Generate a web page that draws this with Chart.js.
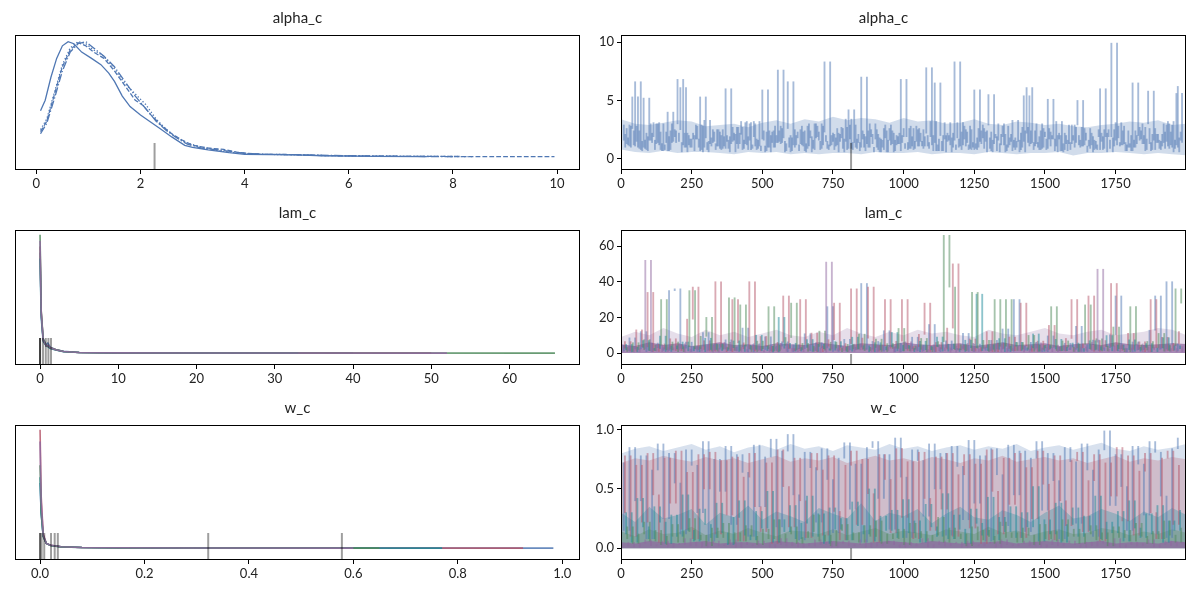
<!DOCTYPE html>
<html>
<head>
<meta charset="utf-8">
<script src="https://cdn.jsdelivr.net/npm/chart.js@4.4.1/dist/chart.umd.min.js"></script>
<style>
  html,body{margin:0;padding:0;background:#fff;}
  body{width:1200px;height:600px;position:relative;overflow:hidden;}
  .panel{position:absolute;}
</style>
</head>
<body>
<div class="panel" id="p0"><canvas></canvas></div>
<div class="panel" id="p1"><canvas></canvas></div>
<div class="panel" id="p2"><canvas></canvas></div>
<div class="panel" id="p3"><canvas></canvas></div>
<div class="panel" id="p4"><canvas></canvas></div>
<div class="panel" id="p5"><canvas></canvas></div>
<script>
// ===================================================
// Trace plot: alpha_c, lam_c, w_c (KDE left, draws right)
// ===================================================

// ---------- titles / ticks ----------
const titles = ["alpha_c", "lam_c", "w_c"];
const alphaKdeTicks = [0, 2, 4, 6, 8, 10];
const lamKdeTicks = [0, 10, 20, 30, 40, 50, 60];
const wKdeTicks = [0, 0.2, 0.4, 0.6, 0.8, 1.0];
const iterTicks = [0, 250, 500, 750, 1000, 1250, 1500, 1750];
const alphaTraceTicks = [0, 5, 10];
const lamTraceTicks = [0, 20, 40, 60];
const wTraceTicks = [0, 0.5, 1.0];

// ---------- alpha_c KDE, one curve per chain ----------
const alphaKdeX0 = [0.08,0.17,0.28,0.39,0.5,0.61,0.72,0.87,1.06,1.24,1.39,1.5,1.65,1.8,2.0,2.2,2.4,2.6,2.85,3.0,3.3,3.7,4.0,4.5,5.0,5.5,6.5,7.5];
const alphaKdeY0 = [0.22,0.27,0.38,0.47,0.53,0.55,0.54,0.50,0.47,0.44,0.40,0.36,0.29,0.24,0.20,0.165,0.13,0.095,0.055,0.045,0.033,0.02,0.012,0.01,0.009,0.005,0.002,0.001];
const alphaKdeX1 = [0.08,0.2,0.35,0.5,0.65,0.8,0.95,1.1,1.3,1.5,1.7,1.9,2.05,2.2,2.4,2.6,2.8,3.0,3.3,3.6,3.9,4.3,4.8,5.5,6.5,7.5,8.5,9.95];
const alphaKdeY1 = [0.12,0.17,0.3,0.43,0.51,0.545,0.53,0.5,0.47,0.41,0.34,0.27,0.245,0.2,0.15,0.11,0.08,0.055,0.042,0.035,0.02,0.012,0.011,0.006,0.003,0.002,0.001,0.001];
const alphaKdeX2 = [0.08,0.2,0.35,0.5,0.65,0.8,0.95,1.1,1.3,1.5,1.7,1.9,2.1,2.3,2.5,2.7,2.9,3.2,3.5,3.8,4.2,4.8,5.5,6.5,7.5,8.4];
const alphaKdeY2 = [0.13,0.18,0.31,0.44,0.52,0.55,0.54,0.51,0.48,0.42,0.35,0.3,0.25,0.18,0.13,0.09,0.065,0.045,0.03,0.02,0.013,0.01,0.006,0.003,0.002,0.001];
const alphaKdeX3 = [0.08,0.2,0.35,0.5,0.65,0.8,0.95,1.1,1.3,1.5,1.7,1.9,2.1,2.3,2.5,2.7,2.9,3.2,3.6,4.0,4.5,5.0,6.0,7.0,8.0];
const alphaKdeY3 = [0.11,0.16,0.28,0.41,0.5,0.54,0.55,0.52,0.48,0.43,0.36,0.29,0.23,0.17,0.125,0.09,0.06,0.04,0.03,0.016,0.012,0.01,0.005,0.002,0.001];
const alphaDiv = [2.27];

// ---------- lam_c KDE, one curve per component ----------
const lamKdeX = [0, 0.15, 0.4, 0.8, 1.0, 1.3, 2, 3, 5, 10, 20];
const lamKdeBlue   = [0.85, 0.33, 0.12, 0.07, 0.085, 0.05, 0.03, 0.015, 0.006, 0.002, 0.001];
const lamKdeRed    = [0.90, 0.35, 0.11, 0.06, 0.06, 0.045, 0.028, 0.014, 0.006, 0.002, 0.001];
const lamKdeTeal   = [0.80, 0.30, 0.10, 0.06, 0.055, 0.04, 0.026, 0.013, 0.005, 0.002, 0.001];
const lamKdeGreen  = [1.00, 0.36, 0.12, 0.06, 0.06, 0.045, 0.03, 0.014, 0.006, 0.002, 0.001];
const lamKdePurple = [0.95, 0.34, 0.11, 0.06, 0.065, 0.045, 0.028, 0.014, 0.006, 0.002, 0.001];
const lamKdeMax = [40, 50, 33, 65.8, 52];
const lamDiv = [0, 0, 0, 0.38, 0.73, 1.07, 1.4];

// ---------- w_c KDE, one curve per component ----------
const wKdeX = [0, 0.002, 0.006, 0.012, 0.02, 0.04, 0.08, 0.15, 0.3];
const wKdeBlue   = [0.55, 0.30, 0.10, 0.04, 0.025, 0.012, 0.006, 0.003, 0.001];
const wKdeRed    = [1.00, 0.45, 0.12, 0.04, 0.025, 0.012, 0.006, 0.003, 0.001];
const wKdeTeal   = [0.60, 0.30, 0.10, 0.04, 0.022, 0.011, 0.005, 0.002, 0.001];
const wKdeGreen  = [0.70, 0.32, 0.10, 0.04, 0.022, 0.011, 0.005, 0.002, 0.001];
const wKdePurple = [0.90, 0.40, 0.11, 0.04, 0.024, 0.012, 0.006, 0.003, 0.001];
const wKdeMax = [0.983, 0.925, 0.77, 0.65, 0.60];
const wDiv = [0, 0, 0.003, 0.008, 0.021, 0.028, 0.034, 0.322, 0.578];

// ---------- draws (every 20th iteration, chains staggered) ----------
const ITER_STEP = 20;
const divIter = [814];

const alphaChain0 = [1.6,2.9,1.1,6.6,0.8,2.2,1.4,3.0,0.7,1.9, 2.5,6.1,1.0,1.7,2.8,0.6,1.5,2.3,0.9,6.0, 1.3,2.7,0.8,1.9,3.2,1.1,0.6,2.0,1.4,2.6, 6.6,1.2,0.7,2.4,1.8,3.0,0.9,1.5,2.2,0.6, 1.7,2.9,1.0,7.0,1.3,2.1,0.8,2.6,1.6,0.7, 6.8,1.9,1.1,2.5,0.9,1.4,6.5,2.0,0.6,1.8, 3.1,1.2,0.8,5.9,1.5,2.3,0.7,1.9,2.8,1.0, 1.6,0.6,2.4,1.3,3.0,0.9,5.1,1.7,2.2,0.8, 1.4,2.7,1.1,0.6,1.9,2.5,0.9,1.6,3.1,1.2, 0.7,6.5,2.0,1.3,2.6,0.8,1.5,2.9,1.0,6.2];
const alphaChain1 = [2.1,1.0,2.8,1.5,0.7,1.9,3.1,1.2,0.8,2.4, 1.4,0.6,2.2,1.7,1.0,3.3,1.3,0.8,2.0,1.5, 2.7,0.9,1.6,3.0,1.1,0.7,2.3,1.4,7.6,1.8, 1.0,2.5,1.3,0.6,1.9,2.8,1.2,0.8,2.1,1.5, 3.4,0.9,1.7,2.4,1.0,0.6,1.8,2.9,1.2,2.0, 1.4,0.8,2.6,1.1,1.9,3.2,0.7,1.5,2.2,1.0, 1.7,2.8,0.9,1.3,2.4,0.6,1.6,3.0,1.2,1.8, 0.8,2.2,6.1,1.4,1.0,2.6,1.7,0.7,2.0,1.3, 2.9,5.0,1.1,1.6,0.8,6.0,1.9,9.9,1.2,2.4, 1.0,1.6,2.7,0.7,1.4,2.1,1.1,3.2,0.6,1.8];
const alphaChain2 = [1.3,2.6,5.3,1.0,5.2,1.6,0.8,2.3,1.4,3.0, 6.8,1.2,2.0,0.7,5.3,1.8,1.1,2.5,0.9,1.6, 2.2,1.3,3.1,0.8,1.7,5.9,1.0,2.4,1.5,0.6, 2.0,1.2,2.8,0.9,1.6,2.3,8.3,1.1,1.8,2.7, 0.8,1.4,2.1,1.0,3.0,1.7,0.6,2.4,1.3,1.9, 2.6,0.9,1.5,2.2,7.8,1.2,0.7,2.0,1.6,8.3, 1.1,2.5,0.8,1.8,2.9,5.5,1.3,0.6,2.1,1.5, 1.0,2.7,1.4,0.8,1.9,2.3,1.1,3.2,0.7,1.6, 2.0,1.2,2.6,0.9,1.5,2.2,0.6,1.8,2.8,1.3, 1.0,2.4,1.7,0.8,2.1,1.4,3.0,0.9,1.6,2.3];
const alphaChain3 = [1.8,1.2,2.4,0.9,1.6,3.0,1.3,0.7,4.0,1.5, 2.2,1.0,1.7,2.9,0.8,1.4,2.5,1.1,1.9,0.6, 2.1,3.2,1.2,0.9,1.6,2.4,1.0,2.8,1.3,0.7, 1.8,2.3,1.1,3.0,0.8,1.5,2.0,1.2,2.6,0.9, 4.2,1.4,0.7,1.9,2.5,1.0,1.6,0.6,2.2,1.3, 0.9,2.8,1.5,1.1,2.0,0.7,1.7,3.1,1.2,0.8, 2.3,1.4,1.0,2.6,0.9,1.8,2.1,1.2,0.7,3.3, 1.5,5.4,1.1,2.4,0.8,1.7,2.0,0.6,1.3,2.9, 1.0,1.6,2.2,1.2,0.8,1.9,2.5,1.1,1.4,0.7, 2.0,1.3,3.0,5.8,1.6,0.9,2.3,1.2,5.6,1.4];

const lamBlue = [4.2,1.1,8.5,2.3,12.0,0.8,5.6,3.0,1.5,35.0, 36.0,2.7,6.1,0.9,3.8,11.5,1.6,4.9,2.2,7.4, 1.2,3.5,14.0,0.7,5.2,2.0,9.1,1.4,3.9,6.3, 0.8,4.6,2.5,10.8,1.3,5.8,2.9,26.0,0.9,4.1, 7.7,1.8,3.3,39.0,2.1,6.5,1.0,12.5,3.6,0.7, 5.4,2.4,8.9,1.2,4.4,16.0,0.8,3.1,6.8,1.7, 2.6,11.0,0.9,5.0,3.4,1.5,7.1,2.2,13.5,1.1, 30.0,4.0,1.6,6.0,2.8,0.8,9.6,3.2,1.3,5.5, 2.0,15.0,0.9,4.7,7.3,1.4,3.0,10.2,32.0,2.5, 0.7,6.2,1.9,4.3,12.8,32.0,2.3,40.0,5.1,1.2];
const lamRed = [2.8,6.4,1.0,13.0,3.5,34.0,0.9,5.1,2.2,8.0, 1.4,4.6,19.0,37.0,2.0,6.9,1.1,40.0,3.3,0.8, 30.0,5.7,2.4,40.0,1.2,9.3,3.7,0.9,6.0,32.0, 2.5,1.3,30.0,4.8,11.2,0.8,3.9,7.5,28.0,1.6, 5.3,36.0,2.1,8.4,37.0,1.0,4.2,30.0,2.7,6.6, 30.0,1.5,3.6,10.5,28.0,0.9,5.9,2.3,14.0,50.0, 1.8,4.5,7.9,1.1,3.1,12.0,0.8,5.6,2.6,9.0, 1.3,28.0,4.1,0.9,6.7,2.0,15.5,3.4,1.2,8.2, 30.0,2.9,5.2,32.0,1.0,7.0,3.7,39.0,1.5,4.6, 11.0,2.1,6.3,0.8,30.0,3.0,8.8,1.4,5.4,12.0];
const lamTeal = [1.9,4.8,0.7,3.2,7.0,1.5,2.6,9.5,0.9,4.0, 2.3,6.2,1.2,3.6,0.8,8.3,2.0,5.1,1.4,3.0, 6.8,0.9,4.4,2.1,10.0,1.3,3.8,0.7,20.0,2.7, 5.5,1.1,3.1,7.6,0.9,4.9,2.4,1.6,6.4,3.3, 1.0,8.9,2.2,4.1,0.7,5.8,1.8,3.5,11.5,1.2, 4.3,2.6,0.8,6.6,1.9,3.7,9.0,1.1,5.0,2.4, 0.9,7.2,3.0,33.0,1.4,4.6,2.1,8.1,0.8,3.9, 6.0,1.5,2.9,10.7,1.0,4.2,2.3,7.7,1.3,3.4, 5.6,0.9,2.5,6.9,1.7,3.6,9.8,1.2,4.5,2.0, 7.4,1.0,3.2,5.3,0.8,2.8,8.6,1.6,4.1,2.4];
const lamGreen = [3.1,0.9,5.8,2.0,7.5,1.3,4.4,30.0,1.8,6.2, 0.8,3.6,35.0,2.5,9.4,20.0,1.1,4.8,2.2,31.0, 1.5,27.0,3.9,0.9,6.7,2.4,26.0,1.2,4.3,8.7, 28.0,2.0,5.4,1.0,3.7,12.3,1.6,6.1,2.8,0.8, 4.9,2.3,10.6,1.4,3.2,7.8,0.9,5.3,2.6,13.8, 1.2,4.0,2.1,8.2,0.8,3.5,6.4,66.0,37.0,1.9, 4.7,1.3,34.0,2.7,7.1,0.9,30.0,3.8,30.0,1.5, 5.9,2.2,9.9,1.0,4.4,2.9,26.0,1.4,6.8,3.3, 0.9,5.0,27.0,2.1,8.0,1.2,3.9,14.6,2.4,0.8, 26.0,4.6,1.7,6.5,2.9,11.0,1.1,4.2,36.0,28.0];
const lamPurple = [1.5,3.8,0.6,2.4,52.0,1.1,4.6,0.8,2.9,1.7, 5.2,0.7,2.1,3.5,1.0,4.3,0.5,2.6,6.0,1.3, 3.1,0.9,2.0,4.8,1.4,0.6,3.3,2.2,5.5,1.0, 2.7,0.8,4.1,1.6,3.0,0.5,51.0,2.4,1.2,3.7, 0.9,5.0,1.8,2.8,0.7,4.4,1.5,3.2,0.6,2.5, 6.3,1.1,3.6,0.8,2.0,4.7,1.3,2.9,0.5,3.9, 1.7,5.4,0.9,2.3,3.4,1.0,4.9,0.7,2.6,1.4, 3.8,0.6,2.1,5.7,1.2,3.0,0.8,4.5,1.9,2.7, 0.9,3.4,1.5,6.1,47.0,2.2,1.0,4.0,0.7,2.8, 1.6,5.1,0.8,3.3,2.0,4.6,1.1,2.5,0.6,3.6];

const wBlue = [0.72,0.15,0.85,0.40,0.78,0.08,0.66,0.88,0.25,0.80, 0.55,0.12,0.83,0.70,0.30,0.90,0.06,0.75,0.48,0.86, 0.20,0.79,0.64,0.10,0.87,0.35,0.77,0.92,0.18,0.82, 0.96,0.45,0.07,0.81,0.68,0.22,0.84,0.58,0.13,0.76, 0.89,0.33,0.71,0.05,0.85,0.90,0.42,0.79,0.16,0.93, 0.60,0.09,0.83,0.74,0.27,0.88,0.50,0.80,0.11,0.86, 0.69,0.24,0.91,0.38,0.78,0.06,0.84,0.62,0.19,0.87, 0.45,0.82,0.14,0.76,0.90,0.32,0.80,0.57,0.08,0.85, 0.73,0.21,0.88,0.66,0.10,0.83,0.99,0.36,0.79,0.52, 0.15,0.86,0.71,0.28,0.90,0.81,0.44,0.09,0.84,0.93];
const wRed = [0.30,0.78,0.10,0.70,0.22,0.80,0.45,0.05,0.76,0.38, 0.82,0.16,0.64,0.08,0.79,0.50,0.81,0.12,0.74,0.28, 0.77,0.06,0.60,0.80,0.35,0.14,0.72,0.04,0.83,0.52, 0.18,0.76,0.40,0.09,0.80,0.66,0.11,0.78,0.31,0.07, 0.70,0.82,0.20,0.75,0.46,0.05,0.79,0.58,0.13,0.84, 0.26,0.73,0.08,0.81,0.42,0.15,0.77,0.33,0.80,0.10, 0.62,0.79,0.17,0.71,0.04,0.83,0.48,0.12,0.76,0.37, 0.80,0.09,0.68,0.25,0.82,0.54,0.07,0.78,0.40,0.19, 0.74,0.81,0.14,0.57,0.79,0.06,0.72,0.44,0.85,0.23, 0.78,0.11,0.65,0.80,0.30,0.08,0.76,0.82,0.20,0.70];
const wTeal = [0.12,0.30,0.05,0.42,0.18,0.08,0.35,0.22,0.04,0.28, 0.10,0.45,0.15,0.06,0.33,0.20,0.09,0.38,0.13,0.03, 0.26,0.40,0.11,0.07,0.31,0.17,0.48,0.05,0.24,0.14, 0.36,0.08,0.21,0.44,0.10,0.29,0.04,0.34,0.16,0.25, 0.07,0.39,0.19,0.12,0.50,0.06,0.27,0.15,0.32,0.09, 0.41,0.13,0.23,0.05,0.37,0.18,0.10,0.46,0.08,0.28, 0.16,0.04,0.33,0.21,0.11,0.43,0.07,0.26,0.14,0.35, 0.09,0.30,0.18,0.52,0.06,0.24,0.12,0.38,0.05,0.20, 0.34,0.10,0.27,0.15,0.44,0.08,0.22,0.13,0.31,0.06, 0.40,0.17,0.09,0.29,0.12,0.36,0.05,0.23,0.15,0.32];
const wGreen = [0.08,0.18,0.04,0.12,0.22,0.06,0.15,0.03,0.10,0.20, 0.05,0.14,0.25,0.07,0.11,0.02,0.17,0.09,0.21,0.04, 0.13,0.06,0.19,0.10,0.03,0.16,0.08,0.24,0.05,0.12, 0.18,0.04,0.09,0.14,0.28,0.06,0.11,0.02,0.15,0.20, 0.07,0.13,0.05,0.19,0.10,0.23,0.04,0.12,0.08,0.16, 0.03,0.21,0.09,0.14,0.06,0.11,0.26,0.05,0.17,0.08, 0.12,0.02,0.18,0.07,0.15,0.10,0.04,0.22,0.09,0.13, 0.05,0.17,0.11,0.03,0.20,0.08,0.14,0.06,0.24,0.10, 0.16,0.04,0.12,0.19,0.07,0.13,0.02,0.18,0.09,0.15, 0.06,0.21,0.10,0.04,0.14,0.08,0.23,0.11,0.05,0.17];
const wPurple = [0.02,0.05,0.01,0.04,0.07,0.02,0.03,0.06,0.01,0.04, 0.03,0.08,0.02,0.05,0.01,0.04,0.06,0.02,0.03,0.07, 0.01,0.05,0.03,0.02,0.06,0.04,0.01,0.03,0.08,0.02, 0.05,0.01,0.04,0.02,0.07,0.03,0.05,0.01,0.04,0.06, 0.02,0.03,0.07,0.01,0.05,0.02,0.04,0.06,0.03,0.01, 0.05,0.02,0.04,0.08,0.01,0.03,0.06,0.02,0.04,0.05, 0.01,0.06,0.03,0.02,0.05,0.04,0.01,0.07,0.03,0.02, 0.04,0.06,0.02,0.05,0.01,0.03,0.07,0.02,0.04,0.06, 0.03,0.01,0.05,0.02,0.06,0.04,0.02,0.08,0.01,0.03, 0.05,0.02,0.04,0.07,0.01,0.03,0.06,0.02,0.05,0.04];

// ---------- dense band of the draws, edges read every 50 iterations ----------
const BAND_STEP = 50;
const alphaBandHi = [3.4,3.0,2.9,3.1,3.3,3.2,2.8,2.9,3.0,2.7, 3.1,3.3,3.0,3.4,3.2,3.6,3.3,3.5,3.4,3.1, 3.5,3.2,3.3,3.0,3.1,3.4,3.0,2.9,3.2,3.1, 2.9,3.0,2.8,2.7,2.9,3.0,3.2,3.1,3.3,2.9,3.0];
const alphaBandLo = [0.8,0.6,0.5,0.7,0.5,0.6,0.6,0.5,0.4,0.6, 0.5,0.6,0.4,0.5,0.4,0.5,0.5,0.4,0.6,0.5, 0.5,0.6,0.4,0.5,0.5,0.4,0.6,0.5,0.4,0.5, 0.5,0.6,0.3,0.5,0.5,0.6,0.5,0.4,0.5,0.4,0.3];
const lamMixHi = [9,12,10,14,11,9,13,10,12,9, 11,13,10,9,12,10,14,11,9,12, 10,13,11,12,10,9,13,11,10,12, 14,11,10,12,13,10,11,12,14,13,10];
const lamPurpleHi = [5,4,6,4.5,5.5,4,5,6,4.5,5, 4,5.5,5,4.5,6,5,4,5.5,5,4.5, 6,5,4.5,5,5.5,4,5,6,4.5,5, 5.5,4,5,5.5,4.5,6,5,4.5,5,5.5,5];
const wBlueHi = [0.80,0.84,0.86,0.82,0.85,0.88,0.83,0.86,0.81,0.85, 0.87,0.83,0.88,0.84,0.86,0.82,0.87,0.85,0.83,0.88, 0.84,0.86,0.82,0.85,0.87,0.83,0.86,0.84,0.88,0.82, 0.85,0.87,0.83,0.86,0.89,0.84,0.82,0.86,0.83,0.85,0.88];
const wRedHi = [0.72,0.76,0.74,0.78,0.75,0.73,0.77,0.74,0.76,0.72, 0.75,0.78,0.73,0.76,0.74,0.77,0.72,0.75,0.78,0.74, 0.76,0.73,0.77,0.75,0.72,0.76,0.74,0.78,0.73,0.75, 0.77,0.74,0.76,0.72,0.75,0.78,0.73,0.76,0.74,0.77,0.75];
const wTealHi = [0.30,0.22,0.35,0.25,0.28,0.33,0.20,0.30,0.26,0.36, 0.24,0.31,0.27,0.22,0.34,0.29,0.25,0.38,0.23,0.30, 0.27,0.33,0.21,0.29,0.35,0.26,0.24,0.32,0.28,0.22, 0.30,0.36,0.25,0.27,0.33,0.29,0.23,0.31,0.26,0.34,0.28];
const wGreenHi = [0.14,0.10,0.16,0.12,0.13,0.18,0.11,0.15,0.12,0.17, 0.13,0.10,0.15,0.14,0.12,0.16,0.11,0.14,0.17,0.12, 0.15,0.13,0.11,0.16,0.14,0.12,0.18,0.13,0.15,0.11, 0.14,0.16,0.12,0.13,0.17,0.15,0.11,0.14,0.12,0.16,0.13];
const wPurpleHi = [0.05,0.04,0.06,0.05,0.04,0.05,0.06,0.04,0.05,0.05, 0.04,0.06,0.05,0.04,0.05,0.06,0.05,0.04,0.05,0.06, 0.05,0.04,0.06,0.05,0.04,0.05,0.05,0.06,0.04,0.05, 0.06,0.05,0.04,0.05,0.06,0.04,0.05,0.05,0.04,0.06,0.05];

// ---------- style ----------
const FONT = "'Liberation Sans Narrow', Lato, 'DejaVu Sans', sans-serif";
Chart.defaults.font.family = FONT;
Chart.defaults.color = "#222";
Chart.defaults.animation = false;

const BLUE = "#4f77b3", RED = "#b5566a", TEAL = "#1b8a9a", GREEN = "#4e8a5a", PURPLE = "#8f68a0";
const COMP_COLORS = [BLUE, RED, TEAL, GREEN, PURPLE];
const KDE_DASH = [[], [4.8, 2.1], [1.3, 2.1], [8.3, 2.1, 1.3, 2.1]];
const RUG = "rgba(0,0,0,0.38)";

function rgba(hex, a){
  const n = parseInt(hex.slice(1), 16);
  return `rgba(${n>>16},${(n>>8)&255},${n&255},${a})`;
}
const pts = (xs, ys) => xs.map((x, i) => ({x, y: ys[i]}));
const bandPts = (ys) => ys.map((y, i) => ({x: i * BAND_STEP, y}));
const line = (data, color, width, dash) => ({data, borderColor: color, borderWidth: width, borderDash: dash || [], pointRadius: 0, fill: false, tension: 0});
const band = (ys, color, fill) => ({data: bandPts(ys), borderWidth: 0, borderColor: "rgba(0,0,0,0)", backgroundColor: color, pointRadius: 0, fill, tension: 0});

// each step between two kept draws is a near-vertical stroke at this x scale,
// so it is drawn as a thin floating bar spanning the two values.
// chain k of n keeps iterations shifted by k*STEP/n so the strokes interleave
const strokes = (ys, color, k, n) => ({
  type: "bar", grouped: false, barThickness: 1.2, borderWidth: 0, backgroundColor: color,
  data: ys.slice(1).map((v, i) => ({x: (i + 0.5 + k / n) * ITER_STEP, y: [ys[i], v]}))
});

// KDE curve followed by its flat tail to the component's max draw
const kdeTail = (xs, ys, max) => pts(xs, ys).concat([{x: max, y: 0}]);

// ---------- frame plugin (full box like matplotlib spines) ----------
const frame = {
  id: "frame",
  afterDraw(c){
    const a = c.chartArea, g = c.ctx;
    g.save(); g.strokeStyle = "#000"; g.lineWidth = 1;
    g.strokeRect(Math.round(a.left) + 0.5, Math.round(a.top) + 0.5, Math.round(a.right - a.left) - 1, Math.round(a.bottom - a.top) - 1);
    g.restore();
  }
};

const TITLE_H = 30, XH = 24, YW = 40, PAD_R = 10, PAD_L = 10;

function fmt(v, dec){ return dec ? v.toFixed(dec) : String(v); }

function panel(id, box, title, datasets, xs, ys){
  const showY = !!ys.ticks;
  const padL = showY ? 0 : PAD_L, yw = showY ? YW : 0;
  const el = document.getElementById(id);
  el.style.left = (box.l - padL - yw) + "px";
  el.style.top = (box.t - TITLE_H) + "px";
  el.style.width = (padL + yw + box.w + PAD_R) + "px";
  el.style.height = (TITLE_H + box.h + XH) + "px";
  // later datasets on top
  datasets.forEach((d, i) => { d.order = -i; });
  const tickGrid = {display: true, drawOnChartArea: false, drawTicks: true, tickLength: 4, color: "#000", lineWidth: 1, offset: false};
  new Chart(el.querySelector("canvas"), {
    type: "line",
    data: {datasets},
    options: {
      responsive: true, maintainAspectRatio: false, devicePixelRatio: 1,
      layout: {padding: {left: padL, right: PAD_R, top: 0, bottom: 0}},
      plugins: {
        legend: {display: false}, tooltip: {enabled: false},
        title: {display: true, text: title, color: "#222", font: {size: 15, weight: "normal"}, padding: {top: 4, bottom: 8}}
      },
      scales: {
        x: {
          type: "linear", min: xs.min, max: xs.max, offset: false,
          afterBuildTicks: s => { s.ticks = xs.ticks.map(v => ({value: v})); },
          afterFit: s => { s.height = XH; },
          grid: tickGrid, border: {display: false},
          ticks: {callback: v => fmt(v, xs.dec), font: {size: 13}, padding: 2, maxRotation: 0, autoSkip: false}
        },
        y: {
          display: showY, type: "linear", min: ys.min, max: ys.max,
          afterBuildTicks: s => { if (ys.ticks) s.ticks = ys.ticks.map(v => ({value: v})); },
          afterFit: s => { s.width = showY ? YW : 0; },
          grid: tickGrid, border: {display: false},
          ticks: {callback: v => fmt(v, ys.dec), font: {size: 13}, padding: 3, autoSkip: false}
        }
      }
    },
    plugins: [frame]
  });
}

const rugs = (vals, y0, y1) => vals.map(v => line([{x: v, y: y0}, {x: v, y: y1}], RUG, 2));

// axes boxes in page pixels
const LEFT = {l: 15, w: 565}, RIGHT = {l: 621, w: 565};
const ROWS = [{t: 35, h: 135}, {t: 230, h: 135}, {t: 425, h: 135}];
const box = (col, r) => ({l: col.l, w: col.w, t: ROWS[r].t, h: ROWS[r].h});

// ======================= alpha_c =======================
const aKdeX = [alphaKdeX0, alphaKdeX1, alphaKdeX2, alphaKdeX3];
const aKdeY = [alphaKdeY0, alphaKdeY1, alphaKdeY2, alphaKdeY3];
panel("p0", box(LEFT, 0), titles[0],
  aKdeX.map((xs, c) => line(pts(xs, aKdeY[c]), BLUE, 1.3, KDE_DASH[c])).concat(rugs(alphaDiv, -0.063, 0.066)),
  {min: -0.41, max: 10.44, ticks: alphaKdeTicks}, {min: -0.063, max: 0.5816});

const aChains = [alphaChain0, alphaChain1, alphaChain2, alphaChain3];
panel("p1", box(RIGHT, 0), titles[0],
  [band(alphaBandLo, "rgba(0,0,0,0)", false), band(alphaBandHi, rgba(BLUE, 0.26), "-1")]
    .concat(aChains.map((ys, c) => strokes(ys, rgba(BLUE, 0.5), c, aChains.length)))
    .concat(rugs(divIter, -0.95, 1.37)),
  {min: 0, max: 1999, ticks: iterTicks}, {min: -0.95, max: 10.6, ticks: alphaTraceTicks});

// ======================= lam_c =======================
const lKde = [lamKdeBlue, lamKdeRed, lamKdeTeal, lamKdeGreen, lamKdePurple];
panel("p2", box(LEFT, 1), titles[1],
  lKde.map((ys, c) => line(kdeTail(lamKdeX, ys, lamKdeMax[c]), rgba(COMP_COLORS[c], 0.85), 1.6)).concat(rugs(lamDiv, -0.1, 0.128)),
  {min: -3.2, max: 69, ticks: lamKdeTicks}, {min: -0.1, max: 1.04});

const lTrace = [lamBlue, lamRed, lamTeal, lamGreen, lamPurple];
panel("p3", box(RIGHT, 1), titles[1],
  [band(lamMixHi, rgba(PURPLE, 0.22), {value: 0}), band(lamPurpleHi, rgba(PURPLE, 0.72), {value: 0})]
    .concat(lTrace.map((ys, c) => strokes(ys, rgba(COMP_COLORS[c], 0.5), c, lTrace.length)))
    .concat(rugs(divIter, -6.7, -0.5)),
  {min: 0, max: 1999, ticks: iterTicks}, {min: -6.7, max: 69, ticks: lamTraceTicks});

// ======================= w_c =======================
const wKde = [wKdeBlue, wKdeRed, wKdeTeal, wKdeGreen, wKdePurple];
panel("p4", box(LEFT, 2), titles[2],
  wKde.map((ys, c) => line(kdeTail(wKdeX, ys, wKdeMax[c]), rgba(COMP_COLORS[c], 0.85), 1.6)).concat(rugs(wDiv, -0.1, 0.128)),
  {min: -0.048, max: 1.034, ticks: wKdeTicks, dec: 1}, {min: -0.1, max: 1.04});

const wTrace = [wBlue, wRed, wTeal, wGreen, wPurple];
const wBands = [wBlueHi, wRedHi, wTealHi, wGreenHi, wPurpleHi];
const wBandAlpha = [0.22, 0.26, 0.3, 0.3, 0.72];
panel("p5", box(RIGHT, 2), titles[2],
  wBands.map((ys, c) => band(ys, rgba(COMP_COLORS[c], wBandAlpha[c]), {value: 0}))
    .concat(wTrace.map((ys, c) => strokes(ys, rgba(COMP_COLORS[c], 0.5), c, wTrace.length)))
    .concat(rugs(divIter, -0.1, 0.0)),
  {min: 0, max: 1999, ticks: iterTicks}, {min: -0.1, max: 1.04, ticks: wTraceTicks, dec: 1});
</script>
</body>
</html>
